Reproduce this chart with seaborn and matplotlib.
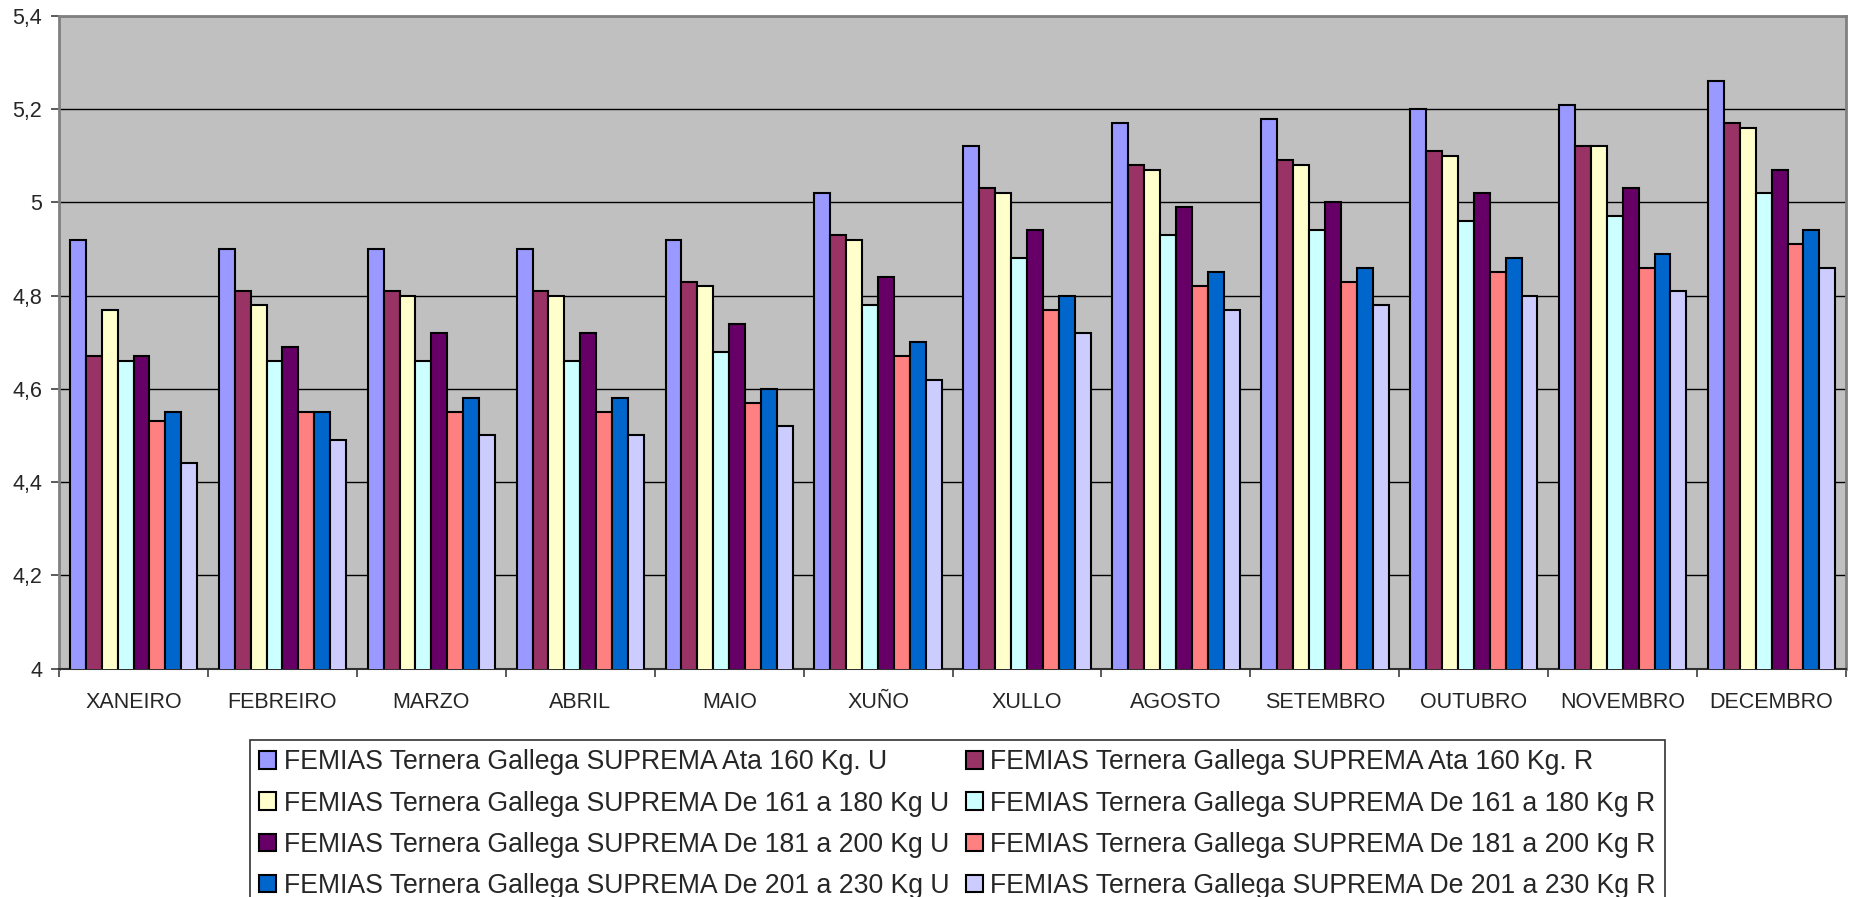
import pandas as pd
import matplotlib
matplotlib.use("Agg")
import matplotlib.pyplot as plt
import matplotlib.ticker as mticker
import seaborn as sns

# Datos
meses = ["XANEIRO", "FEBREIRO", "MARZO", "ABRIL", "MAIO", "XUÑO",
         "XULLO", "AGOSTO", "SETEMBRO", "OUTUBRO", "NOVEMBRO", "DECEMBRO"]

series = [
    "FEMIAS Ternera Gallega SUPREMA Ata 160 Kg. U",
    "FEMIAS Ternera Gallega SUPREMA Ata 160 Kg. R",
    "FEMIAS Ternera Gallega SUPREMA De 161 a 180 Kg U",
    "FEMIAS Ternera Gallega SUPREMA De 161 a 180 Kg R",
    "FEMIAS Ternera Gallega SUPREMA De 181 a 200 Kg U",
    "FEMIAS Ternera Gallega SUPREMA De 181 a 200 Kg R",
    "FEMIAS Ternera Gallega SUPREMA De 201 a 230 Kg U",
    "FEMIAS Ternera Gallega SUPREMA De 201 a 230 Kg R",
]

ata160_u = [4.92, 4.90, 4.90, 4.90, 4.92, 5.02, 5.12, 5.17, 5.18, 5.20, 5.21, 5.26]
ata160_r = [4.67, 4.81, 4.81, 4.81, 4.83, 4.93, 5.03, 5.08, 5.09, 5.11, 5.12, 5.17]
d161_180_u = [4.77, 4.78, 4.80, 4.80, 4.82, 4.92, 5.02, 5.07, 5.08, 5.10, 5.12, 5.16]
d161_180_r = [4.66, 4.66, 4.66, 4.66, 4.68, 4.78, 4.88, 4.93, 4.94, 4.96, 4.97, 5.02]
d181_200_u = [4.67, 4.69, 4.72, 4.72, 4.74, 4.84, 4.94, 4.99, 5.00, 5.02, 5.03, 5.07]
d181_200_r = [4.53, 4.55, 4.55, 4.55, 4.57, 4.67, 4.77, 4.82, 4.83, 4.85, 4.86, 4.91]
d201_230_u = [4.55, 4.55, 4.58, 4.58, 4.60, 4.70, 4.80, 4.85, 4.86, 4.88, 4.89, 4.94]
d201_230_r = [4.44, 4.49, 4.50, 4.50, 4.52, 4.62, 4.72, 4.77, 4.78, 4.80, 4.81, 4.86]

valores = [ata160_u, ata160_r, d161_180_u, d161_180_r,
           d181_200_u, d181_200_r, d201_230_u, d201_230_r]

colores = ["#9999FF", "#993366", "#FFFFCC", "#CCFFFF",
           "#660066", "#FF8080", "#0066CC", "#CCCCFF"]

filas = []
for nombre, vals in zip(series, valores):
    for mes, v in zip(meses, vals):
        filas.append({"mes": mes, "serie": nombre, "valor": v})
df = pd.DataFrame(filas)

# Estilo
sns.set_style("white")
plt.rcParams["font.family"] = ["Liberation Sans", "DejaVu Sans"]

fig = plt.figure(figsize=(18.52, 8.97), dpi=100)
ax = fig.add_axes([0.0319, 0.2547, 0.9649, 0.7275])
ax.set_facecolor("#C0C0C0")

sns.barplot(data=df, x="mes", y="valor", hue="serie", hue_order=series,
            palette=colores, saturation=1, width=0.855, edgecolor="black",
            linewidth=1.5, errorbar=None, ax=ax, zorder=3)

ax.set_ylim(4, 5.4)
ax.set_xlim(-0.5, len(meses) - 0.5)
ax.set_yticks([4.0, 4.2, 4.4, 4.6, 4.8, 5.0, 5.2, 5.4])
ax.yaxis.set_major_formatter(mticker.FuncFormatter(
    lambda v, p: ("%g" % round(v, 1)).replace(".", ",")))
ax.grid(axis="y", color="black", linewidth=1, zorder=0)
ax.set_axisbelow(True)
ax.set_xlabel("")
ax.set_ylabel("")

# ticks de categoría en los límites
ax.set_xticks([i - 0.5 for i in range(len(meses) + 1)], minor=True)
ax.tick_params(axis="x", which="major", length=0, labelsize=15.5, pad=17)
ax.tick_params(axis="x", which="minor", length=6, width=1.2, color="#404040",
               direction="out", bottom=True)
ax.tick_params(axis="y", length=6, width=1.2, color="#404040",
               direction="out", labelsize=15.5, pad=6, left=True)

for lado in ["left", "top", "right"]:
    ax.spines[lado].set_color("#808080")
    ax.spines[lado].set_linewidth(2)
ax.spines["bottom"].set_color("#303030")
ax.spines["bottom"].set_linewidth(1.5)

# Leyenda por filas (2 columnas), recortada por abajo como en el original
handles, labels = ax.get_legend_handles_labels()
ax.get_legend().remove()
orden = [0, 2, 4, 6, 1, 3, 5, 7]
leg = fig.legend([handles[i] for i in orden], [labels[i] for i in orden],
                 loc="upper left", bbox_to_anchor=(0.135, 0.175), ncol=2,
                 fontsize=19.2, frameon=True, fancybox=False, edgecolor="black",
                 handlelength=0.64, handleheight=0.64, handletextpad=0.29,
                 columnspacing=0.6, labelspacing=0.57, borderpad=0.35,
                 borderaxespad=0)
leg.get_frame().set_linewidth(1.2)

plt.savefig("out.png", dpi=100)
print("Gráfico guardado.")
